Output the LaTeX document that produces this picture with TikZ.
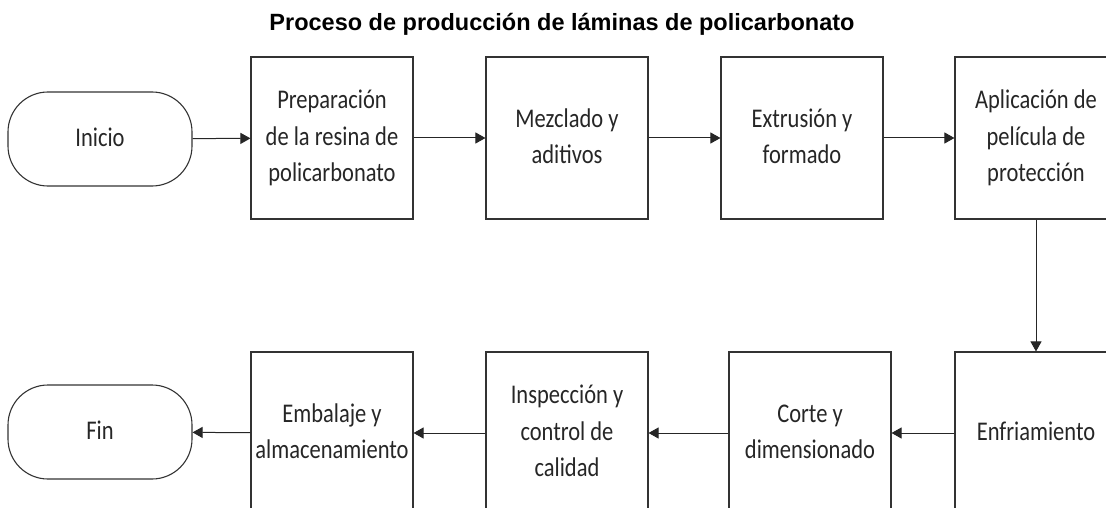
\documentclass[tikz,border=0pt]{standalone}
\usepackage{fontspec}
\setmainfont{Carlito}
\newfontfamily\titlefont{Liberation Sans}
\usetikzlibrary{arrows.meta}

% texto algo estirado en vertical, como en la figura
\newcommand{\stretched}[1]{\scalebox{1}[1.2]{\begin{tabular}{@{}c@{}}#1\end{tabular}}}

\begin{document}
\begin{tikzpicture}[x=1pt, y=-1pt,
  procbox/.style={draw=black!80, line width=1.1pt, minimum width=162pt, minimum height=162pt,
    inner sep=0pt, text=black!85, font=\fontsize{22.5}{30.5}\selectfont},
  termbox/.style={draw=black!80, line width=1.1pt, rounded corners=40pt, minimum width=184pt,
    minimum height=94pt, inner sep=0pt, text=black!85, font=\fontsize{22.5}{30.5}\selectfont},
  flow/.style={-{Triangle[length=10pt,width=11pt]}, line width=1pt, draw=black!85}]
  \useasboundingbox (0,0) rectangle (1106,508);
  \clip (0,0) rectangle (1106,508);
  % titulo
  \node[anchor=base, font=\titlefont\bfseries\fontsize{23.5}{28}\selectfont] (titulo) at (562,31)
    {Proceso de producción de láminas de policarbonato};
  % fila superior
  \node[termbox] (inicio) at (100,139) {\stretched{Inicio}};
  \node[procbox] (prep) at (332,138) {\stretched{Preparación\\de la resina de\\policarbonato}};
  \node[procbox] (mezcla) at (567,138) {\stretched{Mezclado y\\aditivos}};
  \node[procbox] (extru) at (802,138) {\stretched{Extrusión y\\formado}};
  \node[procbox] (pelicula) at (1036,138) {\stretched{Aplicación de\\película de\\protección}};
  % fila inferior
  \node[procbox] (enfria) at (1036,433) {\stretched{Enfriamiento}};
  \node[procbox] (corte) at (810,433) {\stretched{Corte y\\dimensionado}};
  \node[procbox] (inspec) at (567,433) {\stretched{Inspección y\\control de\\calidad}};
  \node[procbox] (embala) at (332,433) {\stretched{Embalaje y\\almacenamiento}};
  \node[termbox] (fin) at (100,432) {\stretched{Fin}};
  % flechas
  \draw[flow] (inicio) -- (prep);
  \draw[flow] (prep) -- (mezcla);
  \draw[flow] (mezcla) -- (extru);
  \draw[flow] (extru) -- (pelicula);
  \draw[flow] (pelicula) -- (enfria);
  \draw[flow] (enfria) -- (corte);
  \draw[flow] (corte) -- (inspec);
  \draw[flow] (inspec) -- (embala);
  \draw[flow] (embala) -- (fin);
\end{tikzpicture}
\end{document}
